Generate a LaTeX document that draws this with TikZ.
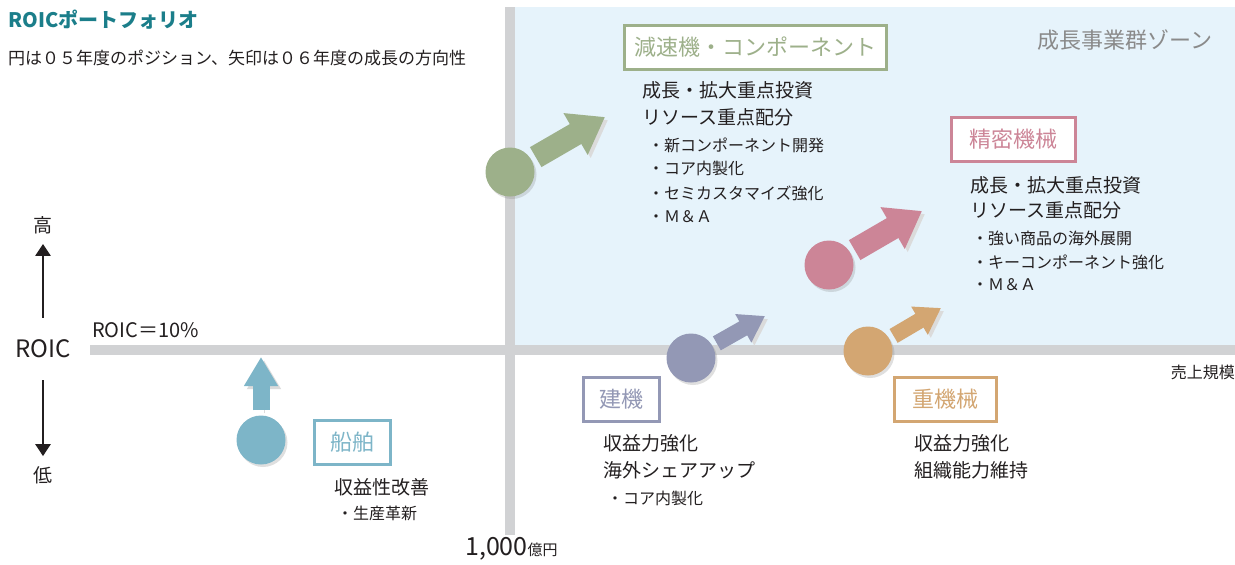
\documentclass[tikz,border=0pt]{standalone}
\usepackage{fontspec}
\setmainfont{Noto Sans CJK JP}
\usetikzlibrary{arrows.meta,shadows}

\definecolor{zoneblue}{HTML}{E6F3FB}
\definecolor{axisgrey}{HTML}{D1D2D4}
\definecolor{inkblack}{HTML}{231F20}
\definecolor{titleteal}{HTML}{1B7E8A}
\definecolor{zonegrey}{HTML}{8A8A8A}
\definecolor{gearsgreen}{HTML}{9DB08A}
\definecolor{precpink}{HTML}{CC8597}
\definecolor{constgrey}{HTML}{9398B5}
\definecolor{heavytan}{HTML}{D3A672}
\definecolor{shipblue}{HTML}{7DB5C8}

\tikzset{
  bizdot/.style={circle, minimum size=49pt, inner sep=0pt, fill=#1,
    drop shadow={opacity=.25, shadow xshift=2pt, shadow yshift=-2.5pt}},
  bigmove/.style={draw=#1, line width=23pt, shorten <=5pt,
    -{Triangle[length=34pt, width=46pt]},
    preaction={draw=black!14, transform canvas={shift={(3pt,-3pt)}}}},
  smallmove/.style={draw=#1, line width=16pt, shorten <=5pt,
    -{Triangle[length=25pt, width=31pt]},
    preaction={draw=black!14, transform canvas={shift={(3pt,-3pt)}}}},
  bizbox/.style={draw=#1, text=#1, line width=3pt, fill=white, minimum height=44pt,
    inner sep=0pt, font=\fontsize{22}{22}\selectfont},
  headline/.style={anchor=west, inner sep=0pt, text=inkblack, font=\fontsize{19}{19}\selectfont},
  pointline/.style={anchor=west, inner sep=0pt, text=inkblack, font=\fontsize{16}{16}\selectfont},
  axisarrow/.style={line width=2.7pt, draw=inkblack, -{Triangle[length=12pt, width=15pt]},
    shorten <=22pt, shorten >=10pt},
}

\begin{document}
\begin{tikzpicture}[x=1pt,y=-1pt]
\useasboundingbox (0,0) rectangle (1235,565);
\fill[zoneblue] (515,7) rectangle (1235,345);
\fill[axisgrey] (90,345) rectangle (1235,355);
\fill[axisgrey] (505,7) rectangle (515,535);

\node[anchor=west, inner sep=0pt, text=titleteal, font=\fontsize{20}{20}\selectfont\bfseries] (title) at (8,20){ROICポートフォリオ};
\node[anchor=west, inner sep=0pt, text=inkblack, font=\fontsize{17}{17}\selectfont] (subtitle) at (8,58){円は０５年度のポジション、矢印は０６年度の成長の方向性};
\node[anchor=east, inner sep=0pt, text=zonegrey, font=\fontsize{22}{22}\selectfont] (zone) at (1213,40){成長事業群ゾーン};

\node[inner sep=0pt, text=inkblack, font=\fontsize{24}{24}\selectfont] (roic) at (43,349){ROIC};
\node[inner sep=0pt, text=inkblack, font=\fontsize{19}{19}\selectfont] (hi) at (43,225){高};
\node[inner sep=0pt, text=inkblack, font=\fontsize{19}{19}\selectfont] (lo) at (43,475){低};
\draw[axisarrow](roic) -- (hi);
\draw[axisarrow](roic) -- (lo);
\node[anchor=west, inner sep=0pt, text=inkblack, font=\fontsize{20}{20}\selectfont] (hurdle) at (92,330){ROIC＝10\%};
\node[anchor=east, inner sep=0pt, text=inkblack, font=\fontsize{16}{16}\selectfont] (sales) at (1235,372){売上規模};
\node[anchor=west, inner sep=0pt, text=inkblack] (border) at (465,549){{\fontsize{25}{25}\selectfont 1,000}{\fontsize{15}{15}\selectfont 億円}};

\node[bizdot=gearsgreen] (gdot) at (510,172){};
\coordinate (gtip) at (605,117);
\draw[bigmove=gearsgreen](gdot) -- (gtip);
\node[bizbox=gearsgreen, minimum width=262pt] (gbox) at (755.5,47.5){減速機・コンポーネント};
\node[headline] (gline1) at (642,90){成長・拡大重点投資};
\node[headline] (gline2) at (642,117){リソース重点配分};
\node[pointline] (gpt1) at (648,145){・新コンポーネント開発};
\node[pointline] (gpt2) at (648,168){・コア内製化};
\node[pointline] (gpt3) at (648,193){・セミカスタマイズ強化};
\node[pointline] (gpt4) at (648,217){・Ｍ＆Ａ};

\node[bizdot=precpink] (pdot) at (829,265){};
\coordinate (ptip) at (922,211);
\draw[bigmove=precpink](pdot) -- (ptip);
\node[bizbox=precpink, minimum width=124pt] (pbox) at (1013.5,139.5){精密機械};
\node[headline] (pline1) at (970,185){成長・拡大重点投資};
\node[headline] (pline2) at (970,210){リソース重点配分};
\node[pointline] (ppt1) at (972,238){・強い商品の海外展開};
\node[pointline] (ppt2) at (972,262){・キーコンポーネント強化};
\node[pointline] (ppt3) at (972,285){・Ｍ＆Ａ};

\node[bizdot=constgrey] (cdot) at (691,358){};
\coordinate (ctip) at (765,316);
\draw[smallmove=constgrey](cdot) -- (ctip);
\node[bizbox=constgrey, minimum width=76pt] (cbox) at (621.5,399.5){建機};
\node[headline] (cline1) at (603,443){収益力強化};
\node[headline] (cline2) at (603,470){海外シェアアップ};
\node[pointline] (cpt1) at (607,498){・コア内製化};

\node[bizdot=heavytan] (hdot) at (868,351){};
\coordinate (htip) at (941,308);
\draw[smallmove=heavytan](hdot) -- (htip);
\node[bizbox=heavytan, minimum width=102pt] (hbox) at (945.5,399.5){重機械};
\node[headline] (hline1) at (914,443){収益力強化};
\node[headline] (hline2) at (914,470){組織能力維持};

\node[bizdot=shipblue] (sdot) at (261,440){};
\coordinate (stip) at (261,357);
\draw[smallmove=shipblue, line width=17pt, -{Triangle[length=29pt, width=32pt]}](sdot) -- (stip);
\node[bizbox=shipblue, minimum width=76pt] (sbox) at (352.5,442.5){船舶};
\node[headline] (sline1) at (334,487){収益性改善};
\node[pointline] (spt1) at (337,513){・生産革新};

\end{tikzpicture}
\end{document}
